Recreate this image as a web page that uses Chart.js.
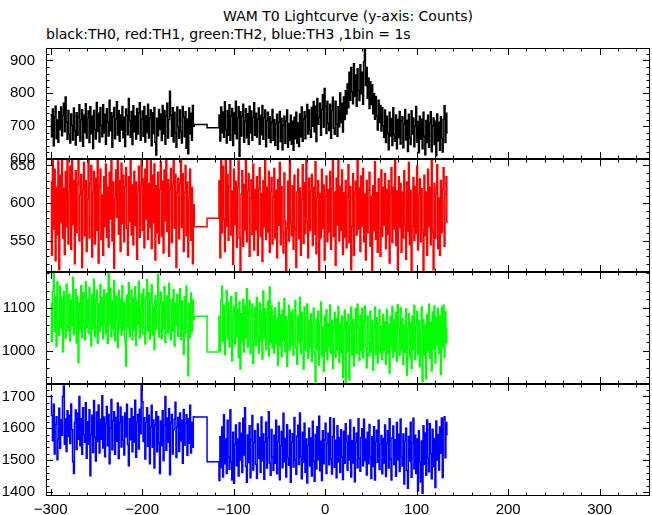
<!DOCTYPE html>
<html>
<head>
<meta charset="utf-8">
<script src="https://cdn.jsdelivr.net/npm/chart.js@4.4.1/dist/chart.umd.min.js"></script>
<style>
body{margin:0;background:#fff;width:652px;height:515px;overflow:hidden;position:relative;}
.t{position:absolute;font-family:"DejaVu Sans",sans-serif;font-size:14px;line-height:16px;color:#000;white-space:nowrap}
canvas{position:absolute;left:0}
</style>
</head>
<body>
<div class="t" style="left:46px;width:604px;text-align:center;top:8px">WAM T0 Lightcurve (y-axis: Counts)</div>
<div class="t" style="left:46px;top:26px">black:TH0, red:TH1, green:TH2, blue:TH3 ,1bin = 1s</div>
<script>
// bins: 1 s each, first segment starts at -300, second at -116, two long bins fill the gap
const startA = -300;
const startB = -116;
const gapStarts = [-143, -129];

const xTicks = [-300, -200, -100, 0, 100, 200, 300];
const xMin = -305, xMax = 355;

// TH0 (black)
const th0A = [
  735, 668, 752, 640, 728, 761, 662, 719, 651, 744, 690, 758, 671, 733, 770, 683, 789, 712, 660, 748,
  676, 649, 737, 702, 658, 755, 687, 643, 741, 672, 728, 765, 655, 719, 750, 639, 733, 681, 768, 664,
  724, 746, 650, 759, 677, 731, 632, 748, 690, 661, 772, 684, 739, 652, 757, 703, 668, 765, 679, 736,
  645, 753, 712, 670, 779, 686, 741, 636, 729, 757, 662, 722, 774, 673, 748, 654, 734, 688, 760, 665,
  727, 638, 752, 733, 674, 784, 718, 666, 745, 644, 762, 683, 730, 661, 754, 676, 739, 771, 657, 721,
  746, 669, 760, 652, 732, 681, 767, 664, 725, 749, 640, 741, 678, 757, 650, 612, 724, 671, 751, 690,
  737, 656, 763, 677, 748, 645, 730, 770, 664, 720, 806, 733, 669, 756, 652, 742, 680, 636, 758, 697,
  663, 749, 684, 649, 760, 728, 668, 744, 633, 722, 616, 755, 676, 739, 657, 763, 700
];
const th0Gap = [705, 695];
const th0B = [
  734, 655, 758, 680, 743, 666, 774, 690, 649, 748, 672, 765, 657, 730, 754, 641, 740, 677, 776, 662,
  725, 759, 608, 744, 670, 731, 767, 651, 718, 753, 665, 738, 645, 761, 679, 746, 657, 727, 771, 672,
  739, 667, 721, 755, 645, 733, 674, 763, 660, 725, 749, 637, 717, 742, 664, 729, 650, 713, 751, 657,
  720, 642, 707, 736, 630, 711, 745, 653, 723, 628, 702, 730, 648, 716, 749, 636, 708, 657, 733, 645,
  715, 627, 727, 662, 742, 649, 710, 638, 737, 668, 758, 654, 721, 744, 662, 730, 766, 676, 749, 688,
  666, 757, 700, 775, 683, 761, 653, 784, 706, 727, 770, 672, 751, 796, 697, 815, 760, 678, 776, 709,
  687, 767, 663, 748, 788, 694, 675, 776, 706, 669, 759, 698, 801, 711, 770, 682, 789, 720, 808, 737,
  828, 756, 864, 779, 879, 805, 768, 890, 791, 856, 761, 875, 807, 778, 887, 799, 864, 767, 896, 938,
  824, 879, 785, 847, 754, 835, 766, 826, 738, 799, 721, 790, 730, 688, 779, 711, 763, 685, 756, 701,
  666, 749, 650, 730, 679, 628, 742, 670, 723, 641, 756, 673, 654, 734, 631, 720, 665, 745, 646, 716,
  729, 634, 707, 751, 658, 718, 623, 736, 667, 644, 747, 676, 725, 637, 699, 760, 651, 714, 619, 730,
  660, 721, 631, 742, 669, 613, 717, 650, 733, 636, 709, 744, 622, 701, 725, 644, 715, 610, 737, 655,
  712, 627, 729, 663, 621, 721, 762, 650, 739, 680
];

// TH1 (red)
const th1A = [
  628, 531, 672, 566, 645, 524, 621, 558, 656, 512, 637, 575, 668, 554, 620, 532, 642, 569, 661, 546,
  615, 649, 539, 676, 572, 630, 520, 643, 561, 624, 663, 550, 611, 638, 515, 619, 654, 557, 630, 536,
  606, 670, 554, 626, 650, 529, 615, 642, 546, 633, 564, 664, 521, 622, 645, 552, 611, 531, 635, 569,
  652, 555, 621, 542, 641, 579, 659, 550, 628, 514, 606, 644, 581, 667, 559, 630, 536, 653, 573, 637,
  549, 621, 647, 567, 531, 635, 576, 657, 558, 624, 545, 642, 571, 628, 526, 615, 649, 555, 623, 672,
  564, 632, 541, 645, 579, 660, 552, 626, 568, 670, 540, 637, 574, 652, 525, 623, 561, 641, 547, 618,
  655, 556, 629, 534, 644, 577, 674, 563, 631, 530, 618, 646, 548, 625, 657, 567, 638, 515, 614, 633,
  553, 626, 669, 568, 639, 536, 615, 650, 557, 628, 529, 607, 645, 551, 621, 520, 598
];
const th1Gap = [569, 580];
const th1B = [
  630, 528, 668, 561, 649, 579, 536, 660, 570, 638, 551, 622, 666, 558, 616, 519, 645, 572, 629, 542,
  621, 656, 554, 510, 612, 643, 543, 625, 565, 662, 549, 616, 639, 530, 607, 631, 559, 652, 538, 618,
  565, 635, 531, 619, 647, 556, 613, 523, 630, 569, 668, 552, 621, 562, 642, 535, 615, 634, 546, 608,
  646, 554, 617, 528, 631, 571, 654, 545, 622, 562, 534, 640, 576, 508, 567, 629, 550, 660, 573, 557,
  623, 539, 637, 566, 515, 615, 645, 553, 620, 531, 606, 651, 547, 627, 560, 664, 575, 528, 633, 564,
  616, 638, 544, 621, 559, 655, 533, 607, 630, 508, 613, 554, 645, 567, 624, 525, 609, 636, 549, 618,
  562, 642, 539, 619, 661, 556, 615, 518, 633, 571, 665, 550, 622, 564, 644, 532, 614, 555, 630, 541,
  608, 651, 548, 622, 512, 569, 639, 531, 615, 629, 558, 670, 566, 620, 536, 636, 570, 646, 549, 612,
  525, 630, 561, 617, 641, 543, 609, 508, 623, 564, 655, 552, 614, 535, 632, 567, 530, 644, 556, 621,
  571, 639, 540, 618, 559, 630, 521, 612, 647, 548, 621, 566, 662, 544, 616, 512, 635, 568, 626, 535,
  615, 554, 643, 572, 526, 628, 563, 654, 545, 617, 509, 570, 634, 551, 622, 560, 649, 538, 611, 632,
  549, 619, 565, 509, 637, 557, 615, 531, 645, 569, 621, 545, 658, 562, 512, 626, 554, 612, 651, 540,
  607, 531, 630, 561, 619, 647, 543, 612, 635, 575
];

// TH2 (green)
const th2A = [
  1110, 1022, 1139, 1183, 1045, 1126, 1010, 1160, 1071, 1036, 1150, 1055, 1121, 998, 1138, 1065, 1030, 1155, 1079, 1046,
  1132, 1023, 1118, 1057, 1170, 1038, 1104, 1142, 1019, 1125, 973, 1112, 1049, 1151, 1031, 1135, 1066, 1026, 1160, 1054,
  1119, 1040, 1147, 1068, 1012, 1130, 1051, 1166, 1033, 1115, 1140, 1018, 1110, 1044, 1154, 1058, 1124, 1028, 1142, 1063,
  1041, 1133, 1017, 1186, 1062, 1146, 1032, 1118, 1050, 1163, 1024, 1127, 1066, 1008, 1140, 1053, 1120, 1037, 1151, 1048,
  1113, 1021, 965, 1129, 1056, 1158, 1034, 1109, 1141, 1026, 1122, 1047, 1148, 1013, 1115, 1060, 1161, 1030, 1103, 1132,
  1039, 1143, 1055, 1016, 1121, 1165, 1045, 1135, 1028, 1111, 1153, 1037, 1102, 1003, 1128, 1050, 1117, 1178, 1032, 1108,
  1136, 1029, 1114, 1051, 1149, 1020, 1103, 1127, 1040, 1157, 1054, 1025, 1120, 1045, 1142, 1011, 1110, 1058, 1131, 1034,
  1106, 1144, 1027, 1116, 1048, 992, 1125, 1041, 1150, 1056, 942, 1111, 1031, 1134, 1045, 1118, 1072
];
const th2Gap = [1080, 997];
const th2B = [
  1080, 1000, 1118, 1150, 1022, 1106, 991, 1094, 1140, 1028, 1113, 1009, 1091, 1126, 977, 1080, 1102, 1016, 1135, 1033,
  1097, 984, 1114, 958, 1086, 1020, 1120, 997, 1105, 1031, 1144, 1008, 1089, 1116, 993, 1081, 1109, 971, 1026, 1101,
  1012, 1124, 1037, 995, 1111, 1023, 1092, 981, 1139, 1029, 1098, 1003, 1085, 1115, 988, 1148, 1019, 1104, 1006, 1082,
  995, 1100, 1017, 1075, 966, 1112, 1010, 1084, 986, 1094, 1024, 1121, 998, 1079, 964, 1068, 1106, 1002, 1088, 1013,
  1095, 990, 1072, 1116, 1007, 969, 1081, 1018, 1124, 994, 1090, 1022, 958, 1102, 1001, 1076, 1109, 983, 1069, 1006,
  1086, 976, 1061, 1099, 992, 928, 1074, 1004, 1092, 967, 1066, 1113, 988, 1055, 952, 1080, 999, 1095, 979, 1064,
  1007, 1106, 994, 1071, 959, 1057, 1089, 985, 1075, 1003, 1103, 973, 1062, 995, 1081, 938, 1052, 1094, 926, 1068,
  998, 1085, 932, 1060, 1101, 990, 1073, 965, 1050, 1098, 993, 1108, 1056, 978, 1083, 1001, 1099, 984, 1067, 1104,
  1006, 961, 1081, 1018, 988, 1092, 997, 1070, 955, 1054, 1101, 991, 1077, 972, 1063, 1095, 995, 1057, 980, 1084,
  1002, 1068, 969, 1096, 993, 1061, 948, 1079, 1009, 1103, 985, 1072, 999, 1089, 976, 1107, 1053, 990, 1100, 1004,
  1075, 968, 1060, 996, 1097, 944, 1052, 1086, 987, 1065, 959, 1081, 1003, 1105, 980, 1058, 1092, 992, 1070, 963,
  1049, 1102, 928, 1073, 989, 1059, 935, 1085, 1000, 1108, 983, 1066, 954, 1090, 1005, 1104, 972, 1078, 1013, 1099,
  994, 1082, 945, 1101, 1007, 1106, 985, 1091, 1019, 1050
];

// TH3 (blue)
const th3A = [
  1703, 1640, 1561, 1675, 1519, 1612, 1636, 1501, 1566, 1663, 1537, 1627, 1578, 1700, 1733, 1550, 1630, 1527, 1655, 1574,
  1641, 1552, 1676, 1595, 1495, 1458, 1618, 1657, 1533, 1647, 1565, 1700, 1545, 1630, 1518, 1664, 1578, 1556, 1680, 1506,
  1620, 1550, 1658, 1451, 1579, 1641, 1524, 1687, 1572, 1497, 1651, 1558, 1673, 1522, 1628, 1565, 1702, 1538, 1635, 1510,
  1614, 1668, 1545, 1643, 1488, 1601, 1690, 1532, 1624, 1652, 1518, 1634, 1559, 1679, 1505, 1617, 1666, 1541, 1637, 1563,
  1516, 1648, 1573, 1675, 1549, 1482, 1630, 1564, 1662, 1526, 1636, 1557, 1688, 1509, 1619, 1643, 1535, 1660, 1583, 1739,
  1683, 1558, 1633, 1503, 1618, 1664, 1543, 1641, 1488, 1605, 1672, 1540, 1626, 1475, 1610, 1652, 1526, 1637, 1553, 1458,
  1623, 1546, 1655, 1498, 1610, 1700, 1531, 1632, 1556, 1661, 1454, 1617, 1643, 1519, 1595, 1628, 1682, 1508, 1604, 1634,
  1527, 1648, 1560, 1625, 1490, 1659, 1547, 1614, 1642, 1515, 1630, 1553, 1672, 1522, 1619, 1540, 1636
];
const th3Gap = [1635, 1495];
const th3B = [
  1436, 1573, 1476, 1604, 1447, 1642, 1488, 1567, 1458, 1625, 1510, 1471, 1658, 1494, 1437, 1587, 1427, 1549, 1610, 1482,
  1566, 1450, 1617, 1499, 1584, 1461, 1631, 1516, 1664, 1480, 1430, 1579, 1492, 1608, 1444, 1563, 1640, 1469, 1554, 1592,
  1487, 1443, 1613, 1506, 1571, 1462, 1635, 1498, 1582, 1440, 1557, 1619, 1475, 1569, 1652, 1491, 1452, 1596, 1509, 1468,
  1578, 1490, 1625, 1457, 1559, 1606, 1438, 1544, 1590, 1476, 1647, 1495, 1568, 1447, 1611, 1508, 1484, 1594, 1430, 1555,
  1583, 1478, 1634, 1500, 1455, 1575, 1609, 1486, 1648, 1511, 1441, 1587, 1493, 1616, 1462, 1566, 1428, 1547, 1600, 1481,
  1569, 1450, 1622, 1497, 1433, 1580, 1472, 1605, 1501, 1638, 1466, 1559, 1436, 1592, 1488, 1564, 1616, 1458, 1552, 1584,
  1485, 1633, 1503, 1456, 1574, 1630, 1477, 1562, 1444, 1608, 1495, 1570, 1461, 1595, 1509, 1439, 1590, 1490, 1614, 1558,
  1468, 1577, 1500, 1626, 1447, 1561, 1491, 1602, 1432, 1556, 1584, 1476, 1630, 1505, 1465, 1571, 1598, 1482, 1628, 1498,
  1566, 1453, 1587, 1488, 1612, 1509, 1442, 1573, 1480, 1605, 1437, 1558, 1594, 1493, 1625, 1470, 1549, 1577, 1457, 1568,
  1491, 1610, 1448, 1553, 1592, 1475, 1630, 1503, 1437, 1570, 1607, 1486, 1564, 1449, 1618, 1500, 1581, 1464, 1629, 1512,
  1481, 1582, 1425, 1561, 1600, 1467, 1411, 1574, 1497, 1619, 1446, 1552, 1631, 1473, 1578, 1458, 1566, 1403, 1592, 1495,
  1431, 1560, 1396, 1608, 1487, 1585, 1452, 1626, 1506, 1463, 1614, 1520, 1441, 1597, 1479, 1568, 1414, 1623, 1500, 1580,
  1469, 1604, 1521, 1632, 1445, 1628, 1636, 1507, 1618, 1580
];

// y tick labels per panel
const yTicks0 = [600, 700, 800, 900];
const yTicks1 = [550, 600, 650];
const yTicks2 = [1000, 1100];
const yTicks3 = [1400, 1500, 1600, 1700];

const tickFont = { family: '"Liberation Sans", Arial, sans-serif', size: 15 };

function buildPoints(segA, gap, segB) {
  const pts = [];
  segA.forEach((v, i) => pts.push({ x: startA + i, y: v }));
  gap.forEach((v, i) => pts.push({ x: gapStarts[i], y: v }));
  segB.forEach((v, i) => pts.push({ x: startB + i, y: v }));
  pts.push({ x: startB + segB.length, y: segB[segB.length - 1] });
  return pts;
}

const fmt = v => (v < 0 ? '\u2212' + (-v) : String(v));

// inward tick marks on all four sides plus the frame
const frameTicks = {
  id: 'frameTicks',
  afterDatasetsDraw(chart, args, o) {
    const ctx = chart.ctx, a = chart.chartArea;
    const xs = chart.scales.x, ys = chart.scales.y;
    ctx.save();
    ctx.strokeStyle = '#000';
    ctx.lineWidth = 1;
    ctx.beginPath();
    for (let v = -300; v <= xs.max; v += 20) {
      const p = Math.round(xs.getPixelForValue(v)) + 0.5;
      const len = v % 100 === 0 ? 7 : 3.5;
      ctx.moveTo(p, a.top); ctx.lineTo(p, a.top + len);
      ctx.moveTo(p, a.bottom); ctx.lineTo(p, a.bottom - len);
    }
    for (let v = Math.ceil(ys.min / o.minor) * o.minor; v <= ys.max; v += o.minor) {
      const p = Math.round(ys.getPixelForValue(v)) + 0.5;
      const len = o.ticks.includes(v) ? 7 : 3.5;
      ctx.moveTo(a.left, p); ctx.lineTo(a.left + len, p);
      ctx.moveTo(a.right, p); ctx.lineTo(a.right - len, p);
    }
    ctx.stroke();
    ctx.strokeRect(a.left + 0.5, a.top + 0.5, a.right - a.left - 1, a.bottom - a.top - 1);
    ctx.fillStyle = '#000';
    if (o.thickTop) ctx.fillRect(a.left, a.top - 1, a.right - a.left, 2);
    if (o.thickBottom) ctx.fillRect(a.left, a.bottom - 1, a.right - a.left, 2);
    ctx.restore();
  }
};

const panels = [
  { a: th0A, g: th0Gap, b: th0B, color: '#000000', min: 600, max: 938, ticks: yTicks0, minor: 20, top: 48, height: 111 },
  { a: th1A, g: th1Gap, b: th1B, color: '#ff0000', min: 509, max: 658.5, ticks: yTicks1, minor: 10, top: 159, height: 113 },
  { a: th2A, g: th2Gap, b: th2B, color: '#00ff00', min: 923, max: 1183, ticks: yTicks2, minor: 20, top: 272, height: 112 },
  { a: th3A, g: th3Gap, b: th3B, color: '#0000ff', min: 1387, max: 1739, ticks: yTicks3, minor: 20, top: 384, height: 112 }
];

panels.forEach((p, i) => {
  const last = i === panels.length - 1;
  const cv = document.createElement('canvas');
  cv.width = 652;
  cv.height = p.height + 12 + (last ? 30 : 12);
  cv.style.top = (p.top - 12) + 'px';
  document.body.appendChild(cv);

  new Chart(cv, {
    type: 'line',
    data: {
      datasets: [{
        data: buildPoints(p.a, p.g, p.b),
        borderColor: p.color,
        borderWidth: 1.5,
        pointRadius: 0,
        stepped: true,
        tension: 0,
        fill: false
      }]
    },
    options: {
      responsive: false,
      animation: false,
      events: [],
      layout: { padding: { top: 12, bottom: last ? 0 : 12, left: 0, right: 2 } },
      plugins: {
        legend: { display: false },
        tooltip: { enabled: false },
        frameTicks: { minor: p.minor, ticks: p.ticks, thickTop: i > 0, thickBottom: !last }
      },
      scales: {
        x: {
          type: 'linear',
          min: xMin,
          max: xMax,
          display: last,
          grid: { display: false, drawTicks: true, tickLength: 5 },
          border: { display: false },
          afterBuildTicks: s => { s.ticks = xTicks.map(v => ({ value: v })); },
          afterFit: s => { if (last) s.height = 30; },
          ticks: { padding: 0, color: '#000', font: tickFont, maxRotation: 0, autoSkip: false, callback: fmt }
        },
        y: {
          type: 'linear',
          min: p.min,
          max: p.max,
          grid: { display: false, drawTicks: true, tickLength: 11 },
          border: { display: false },
          afterBuildTicks: s => { s.ticks = p.ticks.map(v => ({ value: v })); },
          afterFit: s => { s.width = 46; },
          ticks: { padding: 0, color: '#000', font: tickFont, autoSkip: false, callback: fmt }
        }
      }
    },
    plugins: [frameTicks]
  });
});
</script>
</body>
</html>
